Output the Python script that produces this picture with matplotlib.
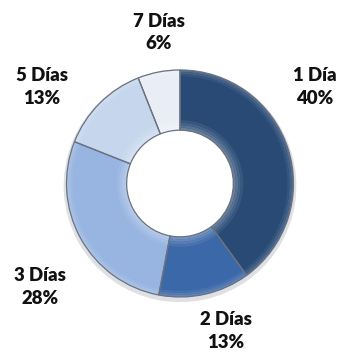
import numpy as np
import matplotlib.pyplot as plt
import matplotlib.colors as mcolors

plt.rcParams['font.family'] = ['Lato', 'DejaVu Sans']

# share of cases by number of days
categories = ['1 Día', '2 Días', '3 Días', '5 Días', '7 Días']
values = [40, 13, 28, 13, 6]

colors = ['#284a75', '#3b68a8', '#97b5e0', '#c6d6ed', '#e9eef6']
# label centres in data units (pie radius = 1)
label_pos = [(1.19, 0.85), (0.405, -1.30), (-1.23, -0.91), (-1.22, 0.85), (-0.185, 1.33)]


def shade(c, f):
    rgb = np.array(mcolors.to_rgb(c))
    if f > 0:
        return tuple(rgb + (1 - rgb) * f)
    return tuple(rgb * (1 + f))


fig = plt.figure(figsize=(3.44, 3.60), dpi=100)
ax = fig.add_axes([66.5 / 344, 63 / 360, 227 / 344, 227 / 360])
ax.set_aspect('equal')
ax.axis('off')

hole = 0.47
common = dict(startangle=90, counterclock=False)

# soft shadow under the ring
ax.pie(values, colors=['#c9ccd2'] * len(values), radius=1.025, center=(0.0, -0.02),
       wedgeprops=dict(width=0.06, edgecolor='none', alpha=0.6), **common)

# base ring
ax.pie(values, colors=colors, radius=1.0,
       wedgeprops=dict(width=1 - hole, edgecolor='none'), **common)

# bevel: a few lighter bands at the hole lip and along the outer rim
for i, f in enumerate([0.30, 0.22, 0.14, 0.07]):
    r_out = hole + 0.022 * (i + 1)
    ax.pie(values, colors=[shade(c, f) for c in colors], radius=r_out,
           wedgeprops=dict(width=0.022, edgecolor='none'), **common)
for i, f in enumerate([0.20, 0.13, 0.06]):
    r_out = 1.0 - 0.018 * i
    ax.pie(values, colors=[shade(c, f) for c in colors], radius=r_out,
           wedgeprops=dict(width=0.018, edgecolor='none'), **common)

# outline and slice separators
ax.pie(values, colors=['none'] * len(values), radius=1.0,
       wedgeprops=dict(width=1 - hole, edgecolor='#6b7280', linewidth=0.9), **common)

ax.set_xlim(-1.0, 1.0)
ax.set_ylim(-1.0, 1.0)

for name, v, (x, y) in zip(categories, values, label_pos):
    ax.text(x, y, f'{name}\n{v}%', ha='center', va='center', fontsize=13.4,
            fontweight='heavy', color='#111111', linespacing=1.4, clip_on=False)

fig.savefig('out.png', dpi=100, facecolor='white')
